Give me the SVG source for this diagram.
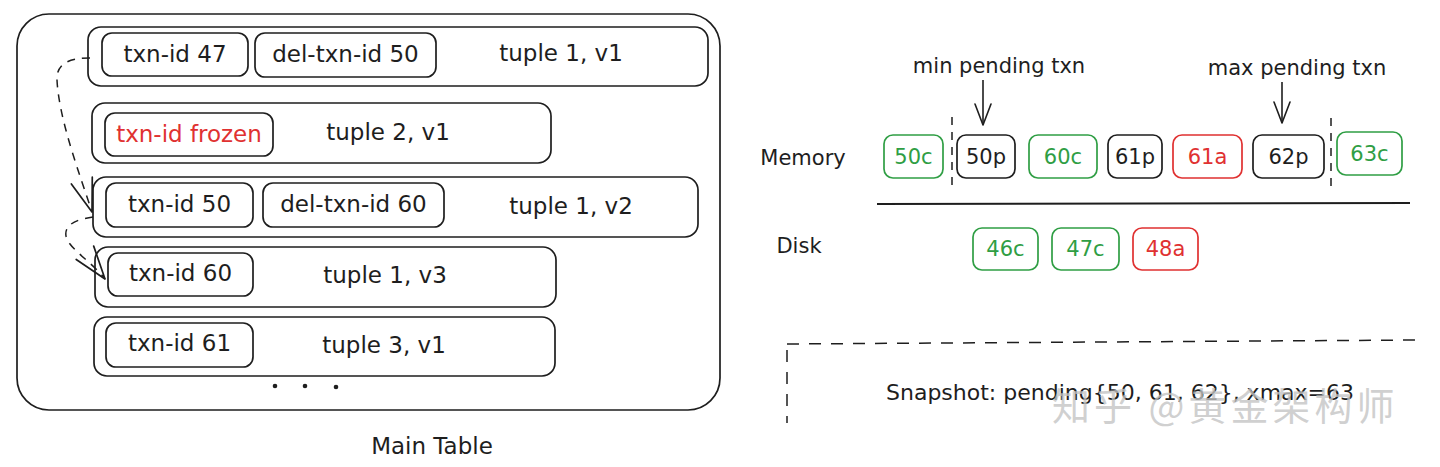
<svg xmlns="http://www.w3.org/2000/svg" width="1440" height="467" viewBox="0 0 1440 467">
<defs>
<style>
.box{fill:none;stroke:#1e1e1e;stroke-width:1.7}
.g{fill:none;stroke:#2f9e44;stroke-width:1.7}
.r{fill:none;stroke:#e03131;stroke-width:1.7}
.t{font-family:"DejaVu Sans",sans-serif;font-size:23px;fill:#1e1e1e;text-anchor:middle;dominant-baseline:central}
.s{font-size:21px}
.tg{fill:#2f9e44}
.tr{fill:#e03131}
.dash{fill:none;stroke:#1e1e1e;stroke-width:1.5;stroke-dasharray:8 7}
.line{fill:none;stroke:#1e1e1e;stroke-width:1.6}
.wm{font-family:"Noto Sans CJK SC",sans-serif;font-size:38px;fill:#c4c4c4;fill-opacity:0.8;letter-spacing:4px}
</style>
<marker id="arr" viewBox="0 0 36 26" refX="35" refY="13" markerWidth="36" markerHeight="26" markerUnits="userSpaceOnUse" orient="auto">
<path d="M2,2 L35,13 L2,24" fill="none" stroke="#1e1e1e" stroke-width="1.7" stroke-linecap="round" stroke-linejoin="round"/>
</marker>
<marker id="arr2" viewBox="0 0 24 20" refX="23" refY="10" markerWidth="24" markerHeight="20" markerUnits="userSpaceOnUse" orient="auto">
<path d="M2,2 L23,10 L2,18" fill="none" stroke="#1e1e1e" stroke-width="1.6" stroke-linecap="round" stroke-linejoin="round"/>
</marker>
</defs>
<rect width="1440" height="467" fill="#ffffff"/>

<g id="main-table">
<rect class="box" x="17" y="14" width="703" height="396" rx="32"/>
<text class="t" x="432" y="446">Main Table</text>
</g>

<g id="row1">
<rect class="box" x="88" y="27" width="620" height="59" rx="13"/>
<rect class="box" x="102" y="33" width="146" height="43" rx="10"/>
<text class="t" x="175" y="54">txn-id 47</text>
<rect class="box" x="255" y="33" width="181" height="44" rx="10"/>
<text class="t" x="345.5" y="54">del-txn-id 50</text>
<text class="t" x="561" y="53">tuple 1, v1</text>
</g>

<g id="row2">
<rect class="box" x="92" y="103" width="459" height="60" rx="13"/>
<rect class="box" x="105" y="113" width="168" height="43" rx="10"/>
<text class="t tr" x="189" y="134">txn-id frozen</text>
<text class="t" x="388" y="132">tuple 2, v1</text>
</g>

<g id="row3">
<rect class="box" x="93" y="177" width="605" height="60" rx="13"/>
<rect class="box" x="106" y="183" width="147" height="44" rx="10"/>
<text class="t" x="179.5" y="204">txn-id 50</text>
<rect class="box" x="263" y="183" width="181" height="44" rx="10"/>
<text class="t" x="353.5" y="204">del-txn-id 60</text>
<text class="t" x="571" y="206">tuple 1, v2</text>
</g>

<g id="row4">
<rect class="box" x="95" y="247" width="461" height="60" rx="13"/>
<rect class="box" x="108" y="253" width="145" height="43" rx="10"/>
<text class="t" x="180.5" y="273">txn-id 60</text>
<text class="t" x="385" y="275">tuple 1, v3</text>
</g>

<g id="row5">
<rect class="box" x="94" y="317" width="461" height="59" rx="13"/>
<rect class="box" x="106" y="323" width="147" height="44" rx="10"/>
<text class="t" x="179.5" y="343">txn-id 61</text>
<text class="t" x="384" y="345">tuple 3, v1</text>
</g>

<g id="ellipsis">
<circle cx="275" cy="386" r="2.3" fill="#1e1e1e"/>
<circle cx="305" cy="386" r="2.3" fill="#1e1e1e"/>
<circle cx="336" cy="387" r="2.3" fill="#1e1e1e"/>
</g>

<g id="connectors">
<path class="dash" d="M 90 58 C 72 58, 56 62, 57 80 C 59 120, 80 175, 92 212" marker-end="url(#arr)"/>
<path class="dash" d="M 93 217 C 78 219, 64 224, 66 236 C 68 248, 92 262, 105 279" marker-end="url(#arr)"/>
<path class="line" d="M 983 80 L 983 125" marker-end="url(#arr2)"/>
<path class="line" d="M 1282 82 L 1282 123" marker-end="url(#arr2)"/>
</g>

<g id="memory-label">
<text class="t s" x="803" y="158">Memory</text>
</g>
<g id="min-pending-label">
<text class="t s" x="999" y="66">min pending txn</text>
</g>
<g id="max-pending-label">
<text class="t s" x="1297" y="68">max pending txn</text>
</g>

<g id="pending-bounds">
<line class="dash" x1="952" y1="117" x2="952" y2="190"/>
<line class="dash" x1="1331" y1="118" x2="1331" y2="190"/>
</g>

<g id="m-50c"><rect class="g" x="884" y="135" width="59" height="43" rx="9"/><text class="t s tg" x="913.5" y="157">50c</text></g>
<g id="m-50p"><rect class="box" x="957" y="135" width="58" height="43" rx="9"/><text class="t s" x="986" y="157">50p</text></g>
<g id="m-60c"><rect class="g" x="1029" y="135" width="68" height="43" rx="9"/><text class="t s tg" x="1063" y="157">60c</text></g>
<g id="m-61p"><rect class="box" x="1108" y="135" width="54" height="43" rx="9"/><text class="t s" x="1135" y="157">61p</text></g>
<g id="m-61a"><rect class="r" x="1173" y="135" width="69" height="43" rx="9"/><text class="t s tr" x="1207.5" y="157">61a</text></g>
<g id="m-62p"><rect class="box" x="1253" y="135" width="71" height="43" rx="9"/><text class="t s" x="1288.5" y="157">62p</text></g>
<g id="m-63c"><rect class="g" x="1337" y="132" width="65" height="43" rx="9"/><text class="t s tg" x="1369.5" y="154">63c</text></g>

<g id="divider">
<path d="M 877 204 L 1410 203" fill="none" stroke="#1e1e1e" stroke-width="2"/>
</g>

<g id="disk-label">
<text class="t s" x="799" y="246">Disk</text>
</g>
<g id="d-46c"><rect class="g" x="973" y="228" width="65" height="42" rx="9"/><text class="t s tg" x="1005.5" y="249">46c</text></g>
<g id="d-47c"><rect class="g" x="1052" y="228" width="67" height="42" rx="9"/><text class="t s tg" x="1085.5" y="249">47c</text></g>
<g id="d-48a"><rect class="r" x="1133" y="228" width="65" height="42" rx="9"/><text class="t s tr" x="1165.5" y="249">48a</text></g>

<g id="snapshot">
<path d="M 787 344 L 1421 340" fill="none" stroke="#1e1e1e" stroke-width="1.5" stroke-dasharray="12 10"/>
<path d="M 787 350 L 787 423" fill="none" stroke="#1e1e1e" stroke-width="1.5" stroke-dasharray="12 10"/>
<text class="t" x="1120" y="392" style="font-size:22px">Snapshot: pending{50, 61, 62}, xmax=63</text>
</g>

<g id="watermark">
<text class="wm" x="1052" y="420">知乎 @黄金架构师</text>
</g>
</svg>
